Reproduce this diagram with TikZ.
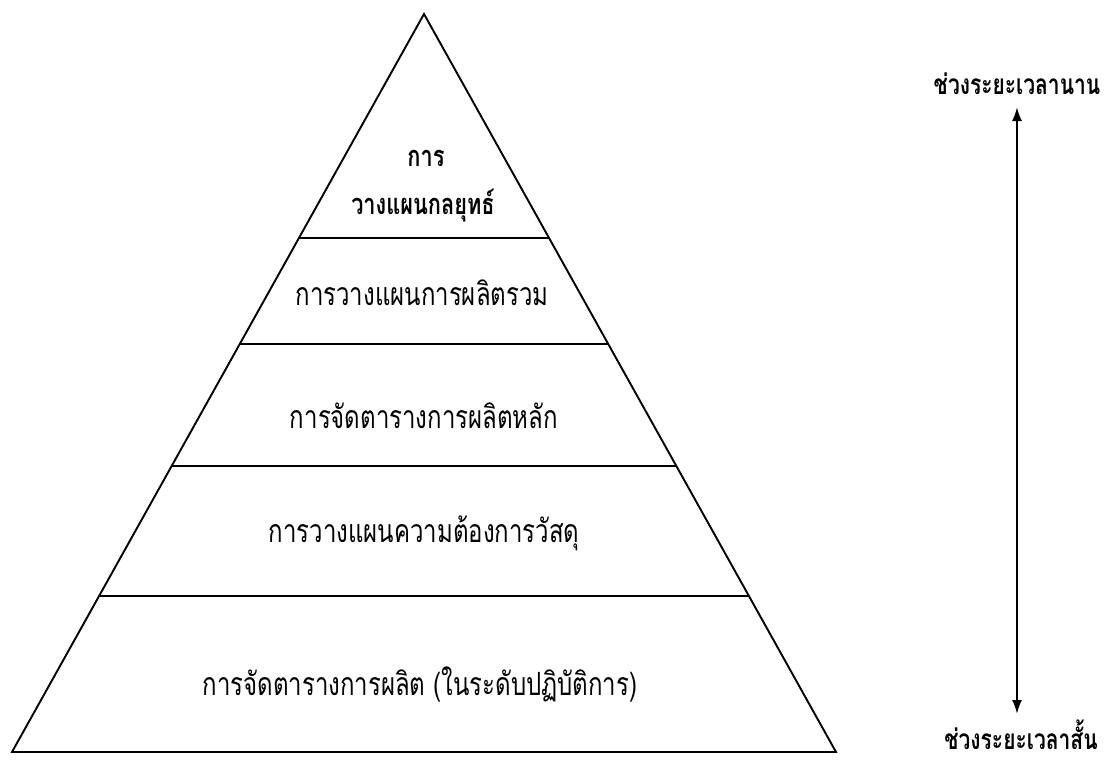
\documentclass[tikz,border=0pt]{standalone}
\usepackage{fontspec}
\newfontfamily\thaifont[Script=Thai,FakeStretch=0.75]{Loma}
\usetikzlibrary{calc,arrows.meta}
\begin{document}
\begin{tikzpicture}[x=1pt,y=-1pt,
  edge/.style={line width=1.9pt, line join=miter},
  sep/.style={line width=1.9pt},
  lbl/.style={font=\thaifont\fontsize{32}{36}\selectfont, inner sep=0pt, anchor=center},
  blbl/.style={font=\thaifont\bfseries\fontsize{29}{33}\selectfont, inner sep=0pt, anchor=center},
  sidelbl/.style={font=\thaifont\bfseries\fontsize{28}{32}\selectfont, inner sep=0pt, anchor=center},
  timearrow/.style={line width=2.2pt, {Latex[length=14pt,width=10pt]}-{Latex[length=14pt,width=10pt]}}]
\useasboundingbox (0,0) rectangle (1112,760);
\coordinate (A) at (424,14);
\coordinate (BL) at (12,752);
\coordinate (BR) at (836,752);
\draw[edge] (A) -- (BR) -- (BL) -- cycle;
% separators
\coordinate (L1) at ($(A)!0.3035!(BL)$); \coordinate (R1) at ($(A)!0.3035!(BR)$);
\coordinate (L2) at ($(A)!0.4472!(BL)$); \coordinate (R2) at ($(A)!0.4472!(BR)$);
\coordinate (L3) at ($(A)!0.6125!(BL)$); \coordinate (R3) at ($(A)!0.6125!(BR)$);
\coordinate (L4) at ($(A)!0.7886!(BL)$); \coordinate (R4) at ($(A)!0.7886!(BR)$);
\draw[sep] (L1) -- (R1);
\draw[sep] (L2) -- (R2);
\draw[sep] (L3) -- (R3);
\draw[sep] (L4) -- (R4);
% labels
\node[blbl] (t1a) at (426,158) {การ};
\node[blbl] (t1b) at (423,206) {วางแผนกลยุทธ์};
\node[lbl] (t2) at (422,293) {การวางแผนการผลิตรวม};
\node[lbl] (t3) at (424,416) {การจัดตารางการผลิตหลัก};
\node[lbl] (t4) at (424,533) {การวางแผนความต้องการวัสดุ};
\node[lbl] (t5) at (420,684) {การจัดตารางการผลิต (ในระดับปฏิบัติการ)};
% time axis
\node[sidelbl] (long) at (1017,84) {ช่วงระยะเวลานาน};
\node[sidelbl] (short) at (1021,735) {ช่วงระยะเวลาสั้น};
\coordinate (atop) at (1017,107);
\coordinate (abot) at (1017,714);
\draw[timearrow] (atop) -- (abot);
\end{tikzpicture}
\end{document}
